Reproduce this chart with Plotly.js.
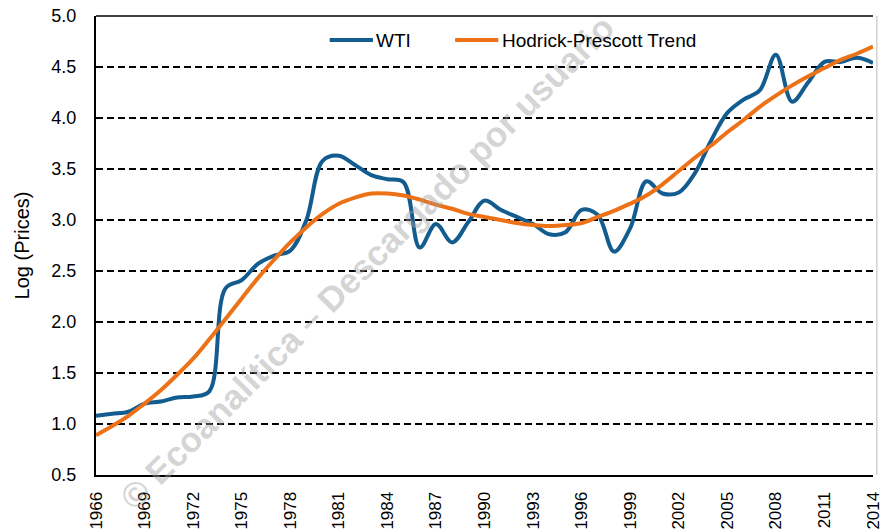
<!DOCTYPE html>
<html>
<head>
<meta charset="utf-8">
<script src="https://cdn.plot.ly/plotly-3.0.1.min.js"></script>
<style>html,body{margin:0;padding:0;background:#fff;}#chart{width:884px;height:529px;}</style>
</head>
<body>
<div id="chart"></div>
<script>
const years = [1966,1967,1968,1969,1970,1971,1972,1973,1974,1975,1976,1977,1978,1979,1980,1981,1982,1983,1984,1985,1986,1987,1988,1989,1990,1991,1992,1993,1994,1995,1996,1997,1998,1999,2000,2001,2002,2003,2004,2005,2006,2007,2008,2009,2010,2011,2012,2013,2014];
const wti = [1.08,1.10,1.12,1.20,1.22,1.26,1.27,1.32,2.33,2.41,2.57,2.65,2.70,3.00,3.58,3.63,3.54,3.44,3.40,3.37,2.73,2.96,2.78,2.98,3.19,3.10,3.03,2.96,2.86,2.88,3.10,3.05,2.69,2.92,3.38,3.26,3.27,3.46,3.78,4.05,4.18,4.27,4.62,4.16,4.35,4.55,4.55,4.59,4.54];
const hp = [0.89,0.98,1.08,1.20,1.33,1.48,1.64,1.83,2.03,2.23,2.43,2.61,2.78,2.93,3.06,3.16,3.22,3.26,3.26,3.24,3.20,3.15,3.11,3.06,3.03,3.00,2.97,2.95,2.94,2.95,2.97,3.03,3.09,3.16,3.24,3.35,3.48,3.61,3.73,3.86,3.98,4.11,4.22,4.32,4.41,4.49,4.57,4.63,4.70];
const tickYears = [1966,1969,1972,1975,1978,1981,1984,1987,1990,1993,1996,1999,2002,2005,2008,2011,2014];
const yTicks = [0.5,1.0,1.5,2.0,2.5,3.0,3.5,4.0,4.5,5.0];
const seriesNames = ["WTI","Hodrick-Prescott Trend"];
const seriesColors = ["#135C8F","#EC7117"];
const yTitle = "Log (Prices)";
const watermark = "© Ecoanalítica – Descargado por usuario";

const font = "Liberation Sans, Arial, sans-serif";
const traces = [
  {x: years, y: wti, name: seriesNames[0], type: "scatter", mode: "lines",
   line: {color: seriesColors[0], width: 4, shape: "spline", smoothing: 1}},
  {x: years, y: hp, name: seriesNames[1], type: "scatter", mode: "lines",
   line: {color: seriesColors[1], width: 4, shape: "spline", smoothing: 1}}
];

// legend drawn by hand (paper coordinates) to match the original's longer swatches
const legY = 0.9477;
const legendItems = [
  {x0: 0.3008, x1: 0.3564, tx: 0.3580},
  {x0: 0.4622, x1: 0.5178, tx: 0.5204}
];
const shapes = [
  {type: "line", xref: "paper", yref: "paper", x0: 0, x1: 1, y0: 1, y1: 1,
   line: {color: "#000", width: 1.5}},
  {type: "line", xref: "paper", yref: "paper", x0: 1.005, x1: 1.005, y0: 0, y1: 1,
   line: {color: "#bbb", width: 1}}
];
const annotations = [
  {text: watermark, xref: "paper", yref: "paper", x: 0.348, y: 0.464,
   showarrow: false, textangle: -45,
   font: {family: font, size: 35, color: "rgba(160,160,160,0.45)", weight: "bold"}}
];
legendItems.forEach((it, i) => {
  shapes.push({type: "line", xref: "paper", yref: "paper", x0: it.x0, x1: it.x1, y0: legY, y1: legY,
    line: {color: seriesColors[i], width: 4}});
  annotations.push({text: seriesNames[i], xref: "paper", yref: "paper", x: it.tx, y: legY,
    xanchor: "left", yanchor: "middle", showarrow: false,
    font: {family: font, size: 19, color: "#000"}});
});

const layout = {
  width: 884, height: 529,
  margin: {l: 96, r: 11, t: 16, b: 54},
  paper_bgcolor: "#fff", plot_bgcolor: "#fff",
  font: {family: font, size: 17, color: "#000"},
  showlegend: false,
  xaxis: {range: [1966, 2014], tickvals: tickYears, ticktext: tickYears.map(String),
    tickangle: -90, showgrid: false, zeroline: false, showline: true, linecolor: "#000",
    linewidth: 2, ticks: "", tickfont: {size: 17}, ticklabelstandoff: 8,
    ticklabeloverflow: "allow"},
  yaxis: {range: [0.5, 5.0], tickvals: yTicks, ticktext: yTicks.map(v => v.toFixed(1)),
    showgrid: true, gridcolor: "#000", gridwidth: 1.3, griddash: "7px,4px",
    zeroline: false, showline: true, linecolor: "#000", linewidth: 2,
    ticks: "inside", ticklen: 4, tickwidth: 1.3, tickcolor: "#000",
    tickfont: {size: 18}, ticklabelstandoff: 14,
    title: {text: yTitle, font: {size: 20}, standoff: 16}},
  shapes: shapes,
  annotations: annotations
};
Plotly.newPlot("chart", traces, layout, {displayModeBar: false, staticPlot: true});
</script>
</body>
</html>
